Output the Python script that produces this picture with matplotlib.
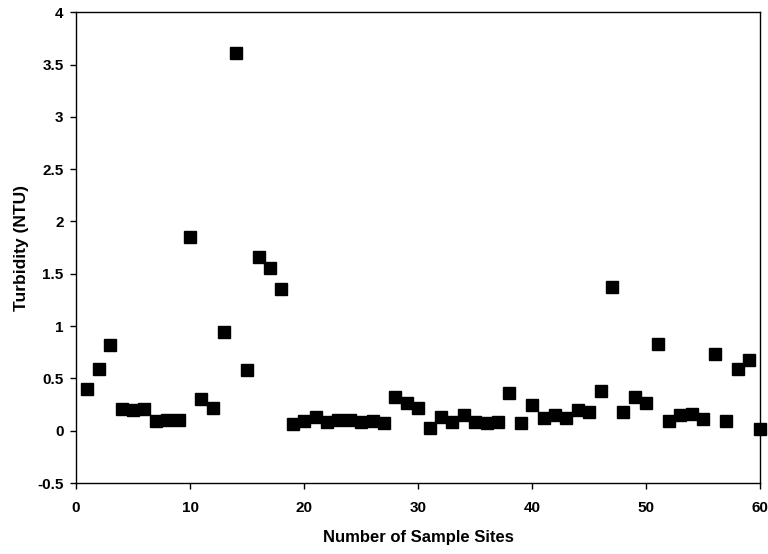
import matplotlib
matplotlib.use("Agg")
import matplotlib.pyplot as plt

# Turbidity measured at each sample site
sites = list(range(1, 61))
turbidity = [
    0.40, 0.59, 0.82, 0.21, 0.20, 0.21, 0.09, 0.10, 0.10, 1.85,
    0.30, 0.22, 0.94, 3.61, 0.58, 1.66, 1.56, 1.35, 0.06, 0.09,
    0.13, 0.08, 0.10, 0.10, 0.08, 0.09, 0.07, 0.32, 0.27, 0.22,
    0.03, 0.13, 0.08, 0.15, 0.08, 0.07, 0.08, 0.36, 0.07, 0.25,
    0.12, 0.15, 0.12, 0.20, 0.18, 0.38, 1.37, 0.18, 0.32, 0.27,
    0.83, 0.09, 0.15, 0.16, 0.11, 0.73, 0.09, 0.59, 0.68, 0.02,
]
x_ticks = [0, 10, 20, 30, 40, 50, 60]
x_tick_labels = ["0", "10", "20", "30", "40", "50", "60"]
y_ticks = [-0.5, 0, 0.5, 1, 1.5, 2, 2.5, 3, 3.5, 4]
y_tick_labels = ["-0.5", "0", "0.5", "1", "1.5", "2", "2.5", "3", "3.5", "4"]

plt.rcParams["font.family"] = ["Liberation Sans", "DejaVu Sans"]
plt.rcParams["font.weight"] = "bold"

fig = plt.figure(figsize=(7.68, 5.54), dpi=100)
ax = fig.add_axes([0.099, 0.128, 0.891, 0.850])

ax.plot(sites, turbidity, linestyle="none", marker="s", markersize=8,
        color="black", markeredgecolor="black", clip_on=False)

ax.set_xlim(0, 60)
ax.set_ylim(-0.5, 4)
ax.set_xticks(x_ticks, labels=x_tick_labels, fontsize=11, fontweight="bold")
ax.set_yticks(y_ticks, labels=y_tick_labels, fontsize=11, fontweight="bold")
ax.tick_params(axis="x", direction="out", length=4, width=1, colors="black", pad=9)
ax.tick_params(axis="y", direction="out", length=4, width=1, colors="black", pad=5)

for s in ax.spines.values():
    s.set_color("black")
    s.set_linewidth(1)

ax.set_xlabel("Number of Sample Sites", fontsize=12, fontweight="bold", labelpad=11)
ax.set_ylabel("Turbidity (NTU)", fontsize=12.5, fontweight="bold", labelpad=6)

fig.savefig("out.png", dpi=100, facecolor="white")
